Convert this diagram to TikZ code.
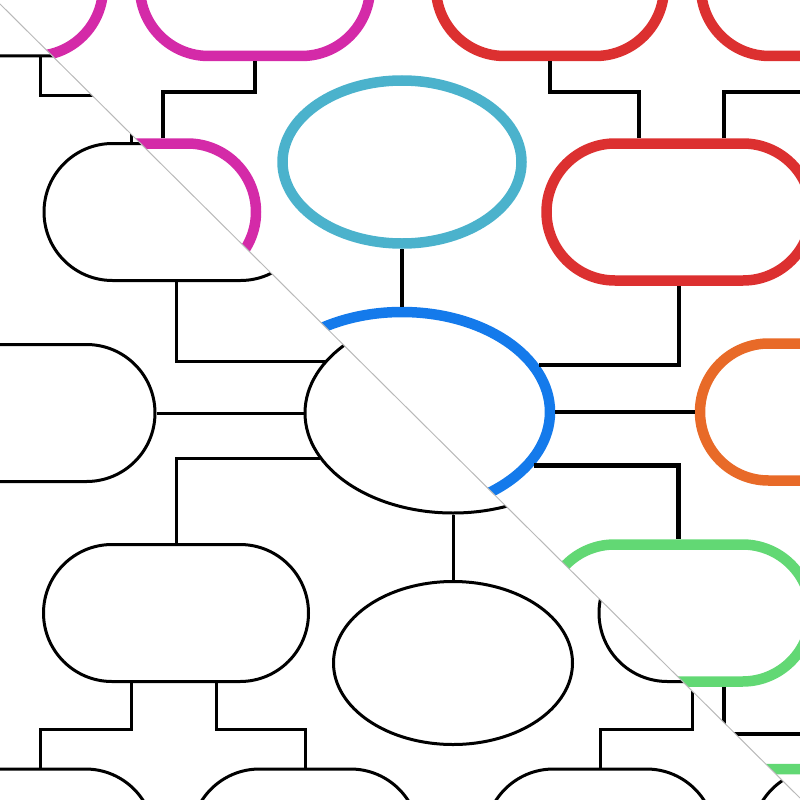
\documentclass[tikz,border=0pt]{standalone}
\usetikzlibrary{shapes.geometric,shapes.misc,calc}
\definecolor{cblue}{RGB}{20,122,235}
\definecolor{ccyan}{RGB}{75,178,204}
\definecolor{cred}{RGB}{220,48,48}
\definecolor{corange}{RGB}{232,106,40}
\definecolor{cgreen}{RGB}{98,216,116}
\definecolor{cmag}{RGB}{212,42,168}
\definecolor{cdiag}{RGB}{185,185,185}
\tikzset{
  elli/.style={ellipse, draw, inner sep=0pt, shapew},
  pill/.style={rounded rectangle, draw, inner sep=0pt, minimum height=137pt, shapew},
}
\newcommand\mindlayer[1]{%
  \node[elli, minimum width=296pt, minimum height=200pt, col E0] (#1E0) at (453,413) {};
  \node[elli, minimum width=239pt, minimum height=163pt, col E6] (#1E6) at (453,663) {};
  \node[pill, minimum width=265pt, col B3] (#1B3) at (176.5,212) {};
  \node[pill, minimum width=265pt, col B4] (#1B4) at (22.5,413) {};
  \node[pill, minimum width=265pt, col B6] (#1B6) at (176,613) {};
  \node[pill, minimum width=265pt, col B7] (#1B7) at (731.5,613) {};
  \node[pill, minimum width=228pt, col B1] (#1B1) at (40,-12.5) {};
  \node[pill, minimum width=228pt, col B10] (#1B10) at (40,837.5) {};
  \node[pill, minimum width=228pt, col B11] (#1B11) at (305,837.5) {};
  \node[pill, minimum width=230pt, col B8] (#1B8) at (600,837.5) {};
  \node[pill, minimum width=228pt, col B9] (#1B9) at (866,837.5) {};
  \draw[conn] (#1E0.south) -- (#1E6.north);
  \draw[conn] (#1E0.west) -- (#1B4.east);
  \draw[conn] (#1E0.158.7) -| (#1B3.south);
  \draw[conn] (#1E0.199.8) -| (#1B6.north);
  \draw[conn] (#1E0.340.2) -| (#1B7.north);
  \draw[conn] (#1B3.north) ++(-45.5,0) -- ++(0,-47) -| (#1B1.south);
  \draw[conn] (#1B6.south) ++(-45,0) -- ++(0,46.5) -| (#1B10.north);
  \draw[conn] (#1B6.south) ++(40,0) -- ++(0,46.5) -| (#1B11.north);
  \draw[conn] (#1B7.south) ++(-39.5,0) -- ++(0,46.5) -| (#1B8.north);
  \draw[conn] (#1B7.south) ++(45,0) -- ++(0,46.5) -| (#1B9.north);
}
\begin{document}
\begin{tikzpicture}[x=1pt, y=-1pt]
  \useasboundingbox (0,0) rectangle (800,800);
  \coordinate (dA) at (0,4);
  \coordinate (dB) at (800,798);
  % lower-left layer: thin black
  \begin{scope}[shapew/.style={line width=3pt, draw=black}, conn/.style={line width=3pt, draw=black},
      col E0/.style={}, col E6/.style={}, col B1/.style={}, col B3/.style={}, col B4/.style={},
      col B6/.style={}, col B7/.style={}, col B8/.style={}, col B9/.style={}, col B10/.style={}, col B11/.style={}]
    \clip (dA) -- (dB) -- (800,800) -- (0,800) -- cycle;
    \mindlayer{k}
  \end{scope}
  % upper-right layer: thick colours, rotated half a turn
  \begin{scope}
    \clip (0,0) -- (800,0) -- (dB) -- (dA) -- cycle;
    \begin{scope}[shift={(855,825)}, rotate=180, transform shape,
        shapew/.style={line width=10.5pt}, conn/.style={line width=4.5pt, draw=black},
        col E0/.style={draw=cblue}, col E6/.style={draw=ccyan}, col B1/.style={draw=cgreen},
        col B3/.style={draw=cgreen}, col B4/.style={draw=corange}, col B6/.style={draw=cred},
        col B7/.style={draw=cmag}, col B8/.style={draw=cmag}, col B9/.style={draw=cmag},
        col B10/.style={draw=cred}, col B11/.style={draw=cred}]
      \mindlayer{c}
    \end{scope}
  \end{scope}
  \draw[cdiag, line width=1pt] (dA) -- (dB);
\end{tikzpicture}
\end{document}
